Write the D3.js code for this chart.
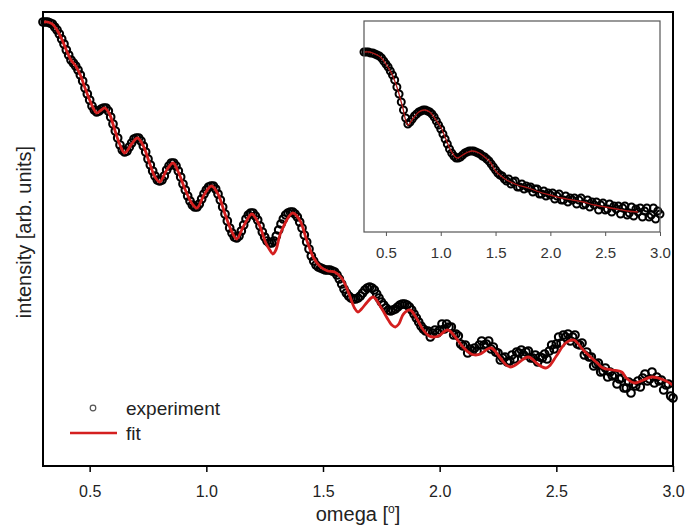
<!DOCTYPE html>
<html>
<head>
<meta charset="utf-8">
<script src="https://cdn.jsdelivr.net/npm/d3@7.9.0/dist/d3.min.js"></script>
<style>
  body { margin: 0; background: #fff; }
  svg { display: block; font-family: "Liberation Sans", Arial, sans-serif; }
</style>
</head>
<body>
<svg id="chart" width="686" height="530"></svg>
<script>
// ---- data (intensity in arb. units) ----
// main panel: experiment sampled every 0.01 deg from 0.30 to 3.00
const expStart = 0.30, expStep = 0.01;
const experiment = [
  44.4, 44.4, 44.4, 44.3, 44.2, 43.9, 43.6, 43.2, 42.7, 42.2,
  41.6, 41.1, 40.6, 40.3, 40.0, 39.6, 39.1, 38.5, 37.8, 37.2,
  36.6, 36.0, 35.6, 35.4, 35.5, 35.7, 35.8, 35.8, 35.5, 34.9,
  34.2, 33.5, 32.8, 32.1, 31.6, 31.4, 31.5, 31.9, 32.3, 32.7,
  32.8, 32.8, 32.5, 32.0, 31.4, 30.7, 30.1, 29.5, 29.0, 28.6,
  28.5, 28.6, 29.0, 29.6, 30.0, 30.3, 30.3, 30.0, 29.5, 28.9,
  28.2, 27.6, 27.0, 26.5, 26.1, 25.9, 25.9, 26.2, 26.7, 27.2,
  27.6, 27.9, 28.0, 28.0, 27.7, 27.2, 26.6, 25.9, 25.2, 24.5,
  23.8, 23.3, 22.9, 22.8, 23.0, 23.5, 24.1, 24.7, 25.1, 25.3,
  25.3, 25.0, 24.6, 24.0, 23.4, 22.9, 22.5, 22.3, 22.3, 22.5,
  23.0, 23.6, 24.2, 24.7, 25.1, 25.3, 25.4, 25.4, 25.2, 24.9,
  24.4, 23.8, 23.1, 22.4, 21.7, 21.0, 20.5, 20.1, 19.9, 19.8,
  19.7, 19.6, 19.6, 19.6, 19.5, 19.4, 19.1, 18.7, 18.2, 17.7,
  17.3, 17.0, 16.8, 16.7, 16.7, 16.8, 17.0, 17.3, 17.6, 17.8,
  17.9, 17.8, 17.6, 17.2, 16.8, 16.4, 16.1, 15.8, 15.6, 15.5,
  15.6, 15.7, 15.9, 16.1, 16.2, 16.2, 16.1, 15.9, 15.6, 15.2,
  14.8, 14.4, 14.0, 13.7, 13.5, 13.5, 12.9, 13.3, 13.6, 13.3,
  13.6, 14.2, 13.7, 14.2, 13.9, 13.9, 13.1, 13.2, 13.0, 12.2,
  12.0, 12.1, 11.3, 11.7, 11.5, 11.8, 11.5, 12.1, 12.5, 12.1,
  12.2, 12.5, 11.7, 11.9, 11.4, 11.3, 10.6, 10.8, 10.9, 10.4,
  10.5, 11.1, 10.7, 11.4, 11.3, 11.6, 11.1, 11.4, 11.5, 10.8,
  10.8, 11.1, 10.4, 10.9, 10.8, 11.2, 10.7, 11.5, 12.1, 11.7,
  12.2, 12.9, 12.3, 13.1, 12.9, 13.2, 12.5, 12.9, 13.1, 12.2,
  12.1, 12.3, 11.1, 11.4, 10.9, 10.9, 10.0, 10.2, 10.3, 9.4,
  9.5, 9.8, 8.9, 9.4, 9.0, 9.1, 8.2, 8.7, 8.8, 7.8,
  7.8, 8.4, 7.3, 8.2, 8.0, 8.5, 7.9, 8.8, 9.2, 8.5,
  8.7, 9.4, 8.3, 8.9, 8.5, 8.6, 7.6, 8.1, 8.2, 7.0,
  6.8
];

const fitOmega = [
  0.30, 0.32, 0.34, 0.36, 0.38, 0.40, 0.42, 0.44, 0.46, 0.48,
  0.50, 0.515, 0.53, 0.55, 0.565, 0.585, 0.605, 0.63, 0.65, 0.68,
  0.705, 0.73, 0.755, 0.78, 0.80, 0.83, 0.857, 0.88, 0.91, 0.94,
  0.96, 0.99, 1.022, 1.05, 1.08, 1.11, 1.13, 1.16, 1.195, 1.225,
  1.255, 1.272, 1.285, 1.298, 1.32, 1.37, 1.40, 1.43, 1.46, 1.49,
  1.52, 1.55, 1.58, 1.61, 1.635, 1.65, 1.665, 1.69, 1.715, 1.75,
  1.78, 1.795, 1.81, 1.825, 1.845, 1.873, 1.90, 1.93, 1.955, 1.975,
  1.995, 2.035, 2.07, 2.10, 2.135, 2.155, 2.175, 2.22, 2.26, 2.285,
  2.305, 2.325, 2.38, 2.42, 2.44, 2.455, 2.47, 2.50, 2.54, 2.575,
  2.615, 2.675, 2.70, 2.74, 2.78, 2.80, 2.835, 2.91, 2.96, 3.00
];
const fitIntensity = [
  44.4, 44.4, 44.2, 43.6, 42.7, 41.6, 40.6, 40.0, 39.1, 37.8,
  36.6, 35.8, 35.3, 35.6, 35.8, 35.2, 33.8, 32.1, 31.3, 32.2,
  32.8, 32.0, 30.4, 28.9, 28.4, 29.6, 30.3, 29.4, 27.6, 26.2,
  25.8, 27.1, 28.0, 27.2, 25.2, 23.4, 22.7, 24.0, 25.2, 24.2,
  22.3, 21.6, 21.2, 21.6, 23.4, 25.3, 24.6, 22.6, 20.8, 19.9,
  19.5, 19.4, 18.8, 17.3, 15.8, 15.4, 15.7, 16.4, 16.9, 15.8,
  14.6, 14.1, 13.9, 14.2, 15.2, 15.6, 14.8, 13.6, 13.0, 12.9,
  13.0, 13.6, 12.8, 11.9, 11.2, 11.1, 11.2, 11.8, 10.8, 10.1,
  9.9, 10.1, 10.9, 10.2, 9.9, 9.8, 10.0, 11.0, 12.3, 12.6,
  11.6, 10.3, 9.8, 9.6, 9.4, 8.8, 8.3, 8.9, 8.6, 8.1
];

// inset: experiment sampled every 0.02 deg from 0.30 to 3.00
const insetStart = 0.30, insetStep = 0.02;
const insetExperiment = [
  18.0, 18.0, 18.0, 17.9, 17.9, 17.8, 17.7, 17.6, 17.4, 17.1,
  16.8, 16.5, 16.1, 15.7, 15.2, 14.5, 13.8, 13.0, 12.2, 11.4,
  10.8, 11.0, 11.3, 11.6, 11.8, 12.0, 12.1, 12.2, 12.2, 12.1,
  12.0, 11.8, 11.5, 11.1, 10.7, 10.3, 9.8, 9.3, 8.8, 8.3,
  7.9, 7.6, 7.4, 7.4, 7.5, 7.7, 7.9, 8.0, 8.1, 8.1,
  8.1, 8.0, 7.9, 7.8, 7.6, 7.5, 7.3, 7.1, 6.8, 6.5,
  6.2, 5.9, 5.7, 5.6, 5.3, 5.1,
  5.3, 4.8, 5.0, 5.1, 4.5, 4.5, 4.8, 4.3, 4.6, 4.4,
  4.5, 4.0, 4.3, 4.3, 3.8, 3.8, 4.1, 3.6, 3.9, 3.7,
  3.9, 3.3, 3.6, 3.8, 3.2, 3.2, 3.6, 3.0, 3.4, 3.2,
  3.4, 2.8, 3.2, 3.4, 2.7, 2.8, 3.2, 2.5, 3.0, 2.7,
  3.0, 2.2, 2.7, 2.9, 2.2, 2.3, 2.8, 2.0, 2.6, 2.3,
  2.6, 1.8, 2.4, 2.6, 1.7, 1.9, 2.5, 1.6, 2.3, 2.0,
  2.4, 1.5, 2.1, 2.4, 1.5, 1.7, 2.4, 1.3, 2.1, 1.8
];
const insetFitOmega = [
  0.30, 0.35, 0.40, 0.45, 0.50, 0.55, 0.60, 0.65, 0.70, 0.75,
  0.80, 0.85, 0.90, 0.95, 1.00, 1.05, 1.10, 1.15, 1.20, 1.25,
  1.29, 1.35, 1.40, 1.45, 1.50, 1.55, 1.60, 1.70, 1.80, 1.90,
  2.00, 2.10, 2.20, 2.30, 2.40, 2.50, 2.60, 2.70, 2.80
];
const insetFitIntensity = [
  18.0, 18.0, 17.8, 17.5, 16.8, 15.9, 14.5, 12.6, 10.7, 11.4,
  12.0, 12.2, 12.0, 11.3, 10.5, 9.2, 8.0, 7.4, 7.7, 8.0,
  8.1, 7.9, 7.5, 7.0, 6.1, 5.6, 5.2, 4.7, 4.4, 4.0,
  3.7, 3.4, 3.2, 3.0, 2.7, 2.5, 2.3, 2.1, 2.0
];

const xTicks = [0.5, 1.0, 1.5, 2.0, 2.5, 3.0];
const legendItems = ['experiment', 'fit'];

// ---- layout ----
const main  = { left: 43, right: 673, top: 12, bottom: 466 };
const inset = { left: 364, right: 660, top: 21, bottom: 232 };
const red = '#d41f1f';

const svg = d3.select('#chart');

const x = d3.scaleLinear().domain([0.3, 3.0]).range([main.left, main.right]);
const y = d3.scaleLinear().domain([0, 45.4]).range([main.bottom, main.top]);
const xi = d3.scaleLinear().domain([0.3, 3.0]).range([inset.left, inset.right]);
const yi = d3.scaleLinear().domain([0, 21.1]).range([inset.bottom, inset.top]);

const expPts = experiment.map((v, i) => ({ w: expStart + i * expStep, v }));
const fitPts = fitOmega.map((w, i) => ({ w, v: fitIntensity[i] }));
const insetPts = insetExperiment.map((v, i) => ({ w: insetStart + i * insetStep, v }));
const insetFitPts = insetFitOmega.map((w, i) => ({ w, v: insetFitIntensity[i] }));

// main axis
const xAxis = d3.axisBottom(x)
  .tickValues(xTicks)
  .tickFormat(d3.format('.1f'))
  .tickSize(6)
  .tickSizeOuter(0)
  .tickPadding(14);

const gx = svg.append('g')
  .attr('transform', `translate(0,${main.bottom})`)
  .call(xAxis);
gx.select('.domain').remove();
gx.selectAll('.tick line').attr('stroke', '#000').attr('stroke-width', 1.5);
gx.selectAll('.tick text').attr('font-size', 16).attr('fill', '#222')
  .attr('font-family', '"Liberation Sans", Arial, sans-serif');

// experiment circles
svg.append('g')
  .selectAll('circle')
  .data(expPts)
  .join('circle')
  .attr('cx', d => x(d.w))
  .attr('cy', d => y(d.v))
  .attr('r', 3.8)
  .attr('fill', 'none')
  .attr('stroke', '#000')
  .attr('stroke-width', 2.1);

// fit line
const line = d3.line()
  .x(d => x(d.w))
  .y(d => y(d.v))
  .curve(d3.curveCatmullRom.alpha(0.5));

svg.append('path')
  .datum(fitPts)
  .attr('d', line)
  .attr('fill', 'none')
  .attr('stroke', red)
  .attr('stroke-width', 2.8);

// main frame
svg.append('rect')
  .attr('x', main.left)
  .attr('y', main.top)
  .attr('width', main.right - main.left)
  .attr('height', main.bottom - main.top)
  .attr('fill', 'none')
  .attr('stroke', '#000')
  .attr('stroke-width', 2);

// axis titles
const xTitle = svg.append('text')
  .attr('x', (main.left + main.right) / 2)
  .attr('y', 521)
  .attr('text-anchor', 'middle')
  .attr('font-size', 20)
  .attr('fill', '#222');
xTitle.append('tspan').text('omega [');
xTitle.append('tspan').text('o').attr('font-size', 12).attr('dy', -8);
xTitle.append('tspan').text(']').attr('dy', 8);

svg.append('text')
  .attr('transform', `translate(31,${(main.top + main.bottom) / 2 - 7}) rotate(-90)`)
  .attr('text-anchor', 'middle')
  .attr('font-size', 20)
  .attr('fill', '#222')
  .text('intensity [arb. units]');

// legend
const legend = svg.append('g');
legend.append('circle')
  .attr('cx', 93).attr('cy', 408).attr('r', 2.8)
  .attr('fill', 'none').attr('stroke', '#555').attr('stroke-width', 1.2);
legend.append('line')
  .attr('x1', 70).attr('x2', 117).attr('y1', 433).attr('y2', 433)
  .attr('stroke', red).attr('stroke-width', 2.5);
legend.selectAll('text')
  .data(legendItems)
  .join('text')
  .attr('x', 126)
  .attr('y', (d, i) => 415 + i * 25)
  .attr('font-size', 19)
  .attr('fill', '#222')
  .text(d => d);

// ---- inset ----
svg.append('rect')
  .attr('x', inset.left)
  .attr('y', inset.top)
  .attr('width', inset.right - inset.left)
  .attr('height', inset.bottom - inset.top)
  .attr('fill', '#fff');

const xiAxis = d3.axisBottom(xi)
  .tickValues(xTicks)
  .tickFormat(d3.format('.1f'))
  .tickSize(4)
  .tickSizeOuter(0)
  .tickPadding(11);

const gxi = svg.append('g')
  .attr('transform', `translate(0,${inset.bottom})`)
  .call(xiAxis);
gxi.select('.domain').remove();
gxi.selectAll('.tick line').attr('stroke', '#555').attr('stroke-width', 1);
gxi.selectAll('.tick text').attr('font-size', 15).attr('fill', '#333')
  .attr('font-family', '"Liberation Sans", Arial, sans-serif');

svg.append('g')
  .selectAll('circle')
  .data(insetPts)
  .join('circle')
  .attr('cx', d => xi(d.w))
  .attr('cy', d => yi(d.v))
  .attr('r', 3.5)
  .attr('fill', 'none')
  .attr('stroke', '#000')
  .attr('stroke-width', 2);

const insetLine = d3.line()
  .x(d => xi(d.w))
  .y(d => yi(d.v))
  .curve(d3.curveCatmullRom.alpha(0.5));

svg.append('path')
  .datum(insetFitPts)
  .attr('d', insetLine)
  .attr('fill', 'none')
  .attr('stroke', '#b01818')
  .attr('stroke-width', 1.3);

svg.append('rect')
  .attr('x', inset.left)
  .attr('y', inset.top)
  .attr('width', inset.right - inset.left)
  .attr('height', inset.bottom - inset.top)
  .attr('fill', 'none')
  .attr('stroke', '#555')
  .attr('stroke-width', 1.2);
</script>
</body>
</html>
